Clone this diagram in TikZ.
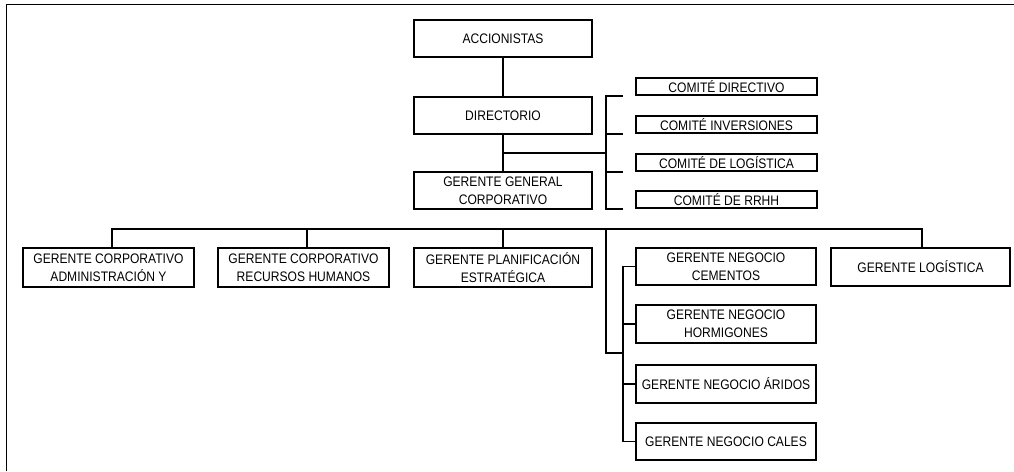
\documentclass[tikz,border=0pt]{standalone}
\usepackage{fontspec}
\setmainfont{Liberation Sans}
\newfontfamily\boxfont[FakeStretch=0.875]{Liberation Sans}
\begin{document}
\begin{tikzpicture}[x=1pt,y=-1pt,
  box/.style={draw,line width=1.7pt,inner sep=0pt,align=center,
    font=\boxfont\fontsize{13.8}{18}\selectfont},
  boxwh/.style 2 args={minimum width=#1pt,minimum height=#2pt},
  link/.style={line width=1.7pt},
  frame/.style={line width=1.8pt}]
\useasboundingbox (0,0) rectangle (1014,471);

% page frame
\draw[frame] (6.5,471) -- (6.5,4.5) -- (1014,4.5);

% board level
\node[box,boxwh={178}{37}] (acc) at (503,38.5) {ACCIONISTAS};
\node[box,boxwh={178}{37}] (dir) at (503,115.5) {DIRECTORIO};
\node[box,boxwh={178}{37}] (ggc) at (503,190.5) {GERENTE GENERAL\\CORPORATIVO};

% committees
\node[box,boxwh={181}{17}] (cd) at (726.5,86.5) {COMIT\'E DIRECTIVO};
\node[box,boxwh={181}{17}] (ci) at (726.5,124.5) {COMIT\'E INVERSIONES};
\node[box,boxwh={181}{17}] (cl) at (726.5,162.5) {COMIT\'E DE LOG\'ISTICA};
\node[box,boxwh={181}{17}] (cr) at (726.5,199.5) {COMIT\'E DE RRHH};

% corporate managers
\node[box,boxwh={171}{39}] (ga) at (108.5,267.5) {GERENTE CORPORATIVO\\ADMINISTRACI\'ON Y};
\node[box,boxwh={171}{39}] (gr) at (303.5,267.5) {GERENTE CORPORATIVO\\RECURSOS HUMANOS};
\node[box,boxwh={178}{39}] (gp) at (503,267.5) {GERENTE PLANIFICACI\'ON\\ESTRAT\'EGICA};
\node[box,boxwh={179}{38}] (gl) at (920.5,267) {GERENTE LOG\'ISTICA};

% business managers
\node[box,boxwh={180}{37}] (nc) at (726,266.5) {GERENTE NEGOCIO\\CEMENTOS};
\node[box,boxwh={180}{38}] (nh) at (726,324) {GERENTE NEGOCIO\\HORMIGONES};
\node[box,boxwh={180}{38}] (na) at (726,384) {GERENTE NEGOCIO \'ARIDOS};
\node[box,boxwh={180}{37}] (nk) at (726,441.5) {GERENTE NEGOCIO CALES};

% reference points for the connector lines
\coordinate (dj) at (503,152.7);
\coordinate (bx) at (606,152.7);
\coordinate (tx) at (622.7,0);
\coordinate (bl) at (112,229);
\coordinate (br) at (922,229);
\coordinate (d2) at (306.7,229);
\coordinate (t0) at (606,229);
\coordinate (t1) at (606,353.3);
\coordinate (sx) at (622.7,0);

% board chain
\draw[link] (acc.south) -- (dir.north);
\draw[link] (dir.south) -- (ggc.north);
\draw[link] (dj) -- (bx);

% committee bracket
\draw[link] (tx |- cd.south) -- (bx |- cd.south) -- (bx |- cr.south) -- (tx |- cr.south);
\draw[link] (bx |- ci.south) -- (tx |- ci.south);
\draw[link] (bx |- cl.south) -- (tx |- cl.south);

% management bus
\draw[link] (bl |- ga.north) -- (bl) -- (br) -- (br |- gl.north);
\draw[link] (d2) -- (d2 |- gr.north);
\draw[link] (gp.north |- bl) -- (gp.north);

% business trunk
\draw[link] (t0) -- (t1) -- (sx |- t1);
\draw[link] (nc.west) -- (sx |- nc.west) -- (sx |- nk.west) -- (nk.west);
\draw[link] (sx |- nh.west) -- (nh.west);
\draw[link] (sx |- na.west) -- (na.west);
\end{tikzpicture}
\end{document}
